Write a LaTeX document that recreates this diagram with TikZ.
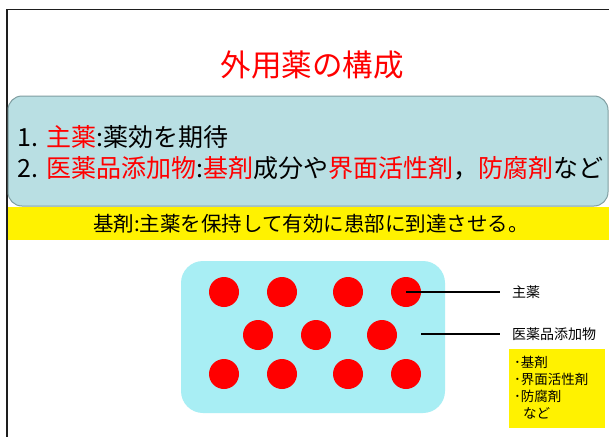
\documentclass[tikz,border=0pt]{standalone}
\usepackage{fontspec}
\setmainfont{Noto Sans CJK JP}
\definecolor{boxblue}{RGB}{185,223,227}
\definecolor{boxedge}{RGB}{128,158,161}
\definecolor{cyanbg}{RGB}{168,238,244}
\definecolor{frameline}{RGB}{30,30,30}
\tikzset{
  dot/.style={circle, fill=red, minimum size=30pt, inner sep=0pt},
  bigtext/.style={anchor=west, inner sep=0pt, font=\fontsize{25}{27}\selectfont},
  smalltext/.style={anchor=west, inner sep=0pt, font=\fontsize{14}{16}\selectfont},
  leader/.style={line width=1.5pt, black}
}
\begin{document}
\begin{tikzpicture}[x=1pt,y=-1pt]
\useasboundingbox (0,0) rectangle (609,436);
\fill[white] (0,0) rectangle (609,436);
\draw[line width=1.8pt, frameline] (7,437) -- (7,9.5) -- (610,9.5);
% title
\node[red, font=\fontsize{30.5}{32}\selectfont, inner sep=0pt] (title) at (312,65) {外用薬の構成};
% main box
\node[draw=boxedge, fill=boxblue, line width=1pt, rounded corners=14pt,
      minimum width=600pt, minimum height=110pt, inner sep=0pt] (box) at (308,151) {};
\node[bigtext] (l1) at (17,137) {1.\hspace{0.35em}\textcolor{red}{主薬}:薬効を期待};
\node[bigtext] (l2) at (17,168) {2.\hspace{0.35em}\textcolor{red}{医薬品添加物}:\textcolor{red}{基剤}成分や\textcolor{red}{界面活性剤}，\textcolor{red}{防腐剤}など};
% band
\node[fill=yellow, minimum width=601pt, minimum height=33pt, inner sep=0pt, anchor=north west] (band) at (8,207) {};
\node[font=\fontsize{20.5}{22}\selectfont, inner sep=0pt] (bandtext) at (311,223.5) {基剤:主薬を保持して有効に患部に到達させる。};
% cyan base
\node[fill=cyanbg, rounded corners=22pt, minimum width=264pt, minimum height=152pt, inner sep=0pt] (base) at (313,337) {};
\node[dot] (a1) at (224,292) {};
\node[dot] (a2) at (282,292) {};
\node[dot] (a3) at (348,292) {};
\node[dot] (a4) at (406,292) {};
\node[dot] (b1) at (258,335) {};
\node[dot] (b2) at (316,335) {};
\node[dot] (b3) at (382,335) {};
\node[dot] (c1) at (224,374) {};
\node[dot] (c2) at (282,374) {};
\node[dot] (c3) at (348,374) {};
\node[dot] (c4) at (406,374) {};
% labels
\node[smalltext] (lbl1) at (512,292) {主薬};
\node[smalltext] (lbl2) at (512,334) {医薬品添加物};
\coordinate (p2) at (421,334);
\draw[leader] (a4.center) -- ([xshift=-12pt]lbl1.west);
\draw[leader] (p2) -- ([xshift=-12pt]lbl2.west);
% note
\node[fill=yellow, minimum width=96pt, minimum height=79pt, inner sep=0pt, anchor=north west] (note) at (509,349) {};
\node[anchor=north west, inner sep=0pt, align=left, font=\fontsize{13.5}{17}\selectfont] (notetext) at (514,356) {･基剤\\･界面活性剤\\･防腐剤\\\hspace{9pt}など};
\end{tikzpicture}
\end{document}
